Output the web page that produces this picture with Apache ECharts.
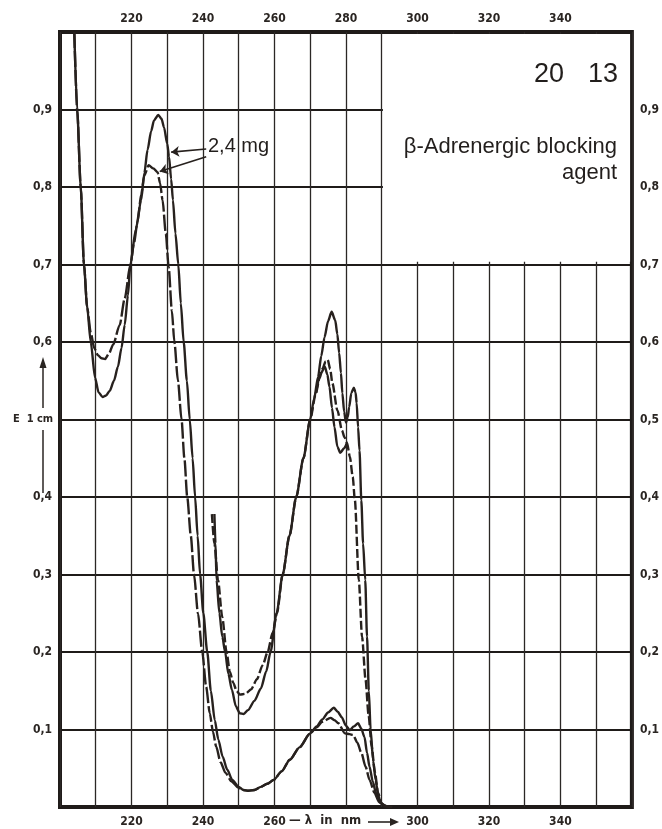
<!DOCTYPE html>
<html>
<head>
<meta charset="utf-8">
<script src="https://cdn.jsdelivr.net/npm/echarts@6/dist/echarts.min.js"></script>
<style>
html,body{margin:0;padding:0;background:#fff;}
#chart{width:662px;height:829px;}
</style>
</head>
<body>
<div id="chart"></div>
<script>
// ---- data (wavelength nm, extinction E 1cm) ----
const topTickLabels = [220, 240, 260, 280, 300, 320, 340];
const bottomTickLabels = [220, 240, 260, 300, 320, 340];
const leftTickLabels = [0.1, 0.2, 0.3, 0.4, 0.6, 0.7, 0.8, 0.9];
const rightTickLabels = [0.1, 0.2, 0.3, 0.4, 0.5, 0.6, 0.7, 0.8, 0.9];

// 2,4 mg, solid curve
const solidLow = [[204.0,1.0],[204.8,0.9],[205.8,0.8],[206.7,0.7],[207.6,0.645],[208.6,0.6],[209.8,0.554],[210.8,0.535],[211.9,0.529],[212.9,0.531],[213.9,0.537],[215.1,0.55],[216.2,0.568],[217.2,0.592],[218.1,0.622],[219.0,0.66],[219.7,0.70],[221.2,0.745],[222.7,0.783],[223.6,0.818],[224.5,0.848],[225.5,0.872],[226.3,0.886],[227.5,0.893],[228.4,0.888],[229.1,0.877],[230.0,0.856],[230.5,0.839],[231.1,0.81],[231.6,0.783],[232.3,0.74],[233.1,0.7],[233.8,0.65],[234.6,0.6],[235.5,0.55],[236.3,0.5],[237.1,0.45],[237.8,0.4],[238.5,0.35],[239.2,0.3],[240.1,0.25],[241.2,0.2],[242.2,0.15],[243.3,0.112],[244.3,0.087],[245.5,0.065],[246.8,0.048],[248.2,0.035],[250.0,0.026],[251.3,0.022],[252.6,0.021],[254.4,0.022],[256.2,0.026],[258.0,0.03],[259.8,0.035],[262.0,0.046],[264.3,0.061],[267.0,0.077],[270.0,0.095],[271.8,0.104],[273.4,0.113],[275.0,0.122],[276.6,0.128],[277.7,0.123],[278.8,0.116],[280.0,0.105],[281.1,0.099],[282.2,0.104],[283.4,0.108],[284.3,0.101],[285.2,0.09],[285.9,0.07],[286.6,0.052],[287.5,0.033],[288.4,0.018],[289.5,0.007],[290.7,0.002],[292.0,0]];

// 2,4 mg, dashed curve
const dashedLow = [[204.0,1.0],[204.8,0.9],[205.8,0.8],[206.7,0.7],[207.6,0.645],[208.6,0.612],[209.6,0.592],[210.6,0.583],[211.6,0.579],[212.6,0.578],[213.7,0.585],[214.9,0.597],[216.7,0.622],[218.1,0.656],[219.7,0.70],[220.7,0.728],[221.7,0.755],[222.7,0.79],[223.6,0.815],[224.8,0.828],[226.1,0.824],[227.3,0.819],[228.0,0.805],[228.7,0.783],[229.6,0.74],[230.4,0.697],[231.3,0.64],[232.0,0.6],[233.0,0.55],[234.0,0.5],[234.8,0.45],[235.6,0.4],[236.6,0.35],[237.5,0.3],[238.6,0.25],[239.8,0.2],[240.9,0.155],[241.9,0.121],[242.8,0.097],[243.7,0.078],[244.9,0.058],[246.3,0.044],[248.0,0.033],[249.9,0.025],[251.3,0.022],[252.6,0.021],[254.4,0.022],[256.2,0.026],[258.0,0.03],[259.8,0.035],[262.0,0.046],[264.3,0.061],[267.0,0.077],[270.0,0.095],[271.8,0.103],[273.4,0.11],[275.7,0.115],[276.8,0.112],[277.9,0.108],[279.7,0.095],[281.0,0.094],[282.0,0.093],[283.2,0.083],[284.3,0.07],[285.5,0.052],[286.6,0.035],[288.0,0.018],[289.3,0.006],[291.0,0]];

// higher concentration, solid curve
const solidHigh = [[243.2,0.378],[243.5,0.34],[243.8,0.293],[244.6,0.25],[245.4,0.22],[246.2,0.2],[247.1,0.172],[248.1,0.151],[249.2,0.13],[250.3,0.121],[251.4,0.12],[252.6,0.125],[254.4,0.137],[256.2,0.153],[257.7,0.175],[258.9,0.2],[260.6,0.25],[262.3,0.3],[264.2,0.35],[266.1,0.4],[268.1,0.45],[270.0,0.5],[271.1,0.527],[272.2,0.555],[273.1,0.582],[274.0,0.606],[275.0,0.627],[276.0,0.639],[277.0,0.628],[277.6,0.61],[278.1,0.586],[278.6,0.56],[279.0,0.534],[279.5,0.51],[280.0,0.496],[280.5,0.503],[280.9,0.516],[281.5,0.534],[282.2,0.541],[282.7,0.535],[283.0,0.521],[283.4,0.49],[283.8,0.46],[284.3,0.396],[284.8,0.34],[285.4,0.293],[285.9,0.22],[286.4,0.15],[286.9,0.1],[287.6,0.06],[288.3,0.035],[289.0,0.016],[289.7,0.005],[291.0,0.001],[293.0,0]];

// higher concentration, dashed curve
const dashedHigh = [[242.5,0.378],[243.2,0.34],[244.2,0.293],[245.4,0.245],[246.6,0.2],[247.5,0.175],[248.5,0.16],[249.4,0.15],[250.3,0.145],[251.9,0.146],[253.5,0.152],[255.1,0.165],[256.7,0.183],[258.1,0.2],[259.5,0.225],[260.7,0.25],[262.3,0.3],[264.2,0.35],[266.1,0.4],[268.1,0.45],[270.0,0.5],[271.6,0.534],[272.6,0.553],[273.5,0.566],[274.3,0.575],[274.9,0.577],[275.6,0.565],[276.2,0.547],[277.6,0.512],[278.9,0.486],[279.6,0.477],[280.3,0.47],[281.1,0.452],[281.9,0.426],[282.5,0.396],[283.6,0.293],[284.5,0.22],[285.5,0.164],[286.3,0.12],[287.2,0.078],[288.1,0.045],[289.0,0.018],[290.0,0.004],[291.5,0]];

// higher concentration, second solid curve (separates near the 275 nm band)
const solidHighB = [[271.6,0.534],[273.0,0.56],[274.1,0.568],[274.8,0.558],[275.4,0.542],[276.1,0.515],[276.8,0.49],[277.6,0.465],[278.4,0.457],[279.5,0.463],[280.3,0.47]];

// annotation arrows "2,4 mg" (from label to curve)
const arrowSolid = [[240.9,0.849],[231.1,0.845]];
const arrowDashed = [[240.9,0.839],[227.9,0.82]];
// blank text panel (no grid) region
const blankPanel = [[290.35,0.7035],[359.5,0.9975]];

// ---- chart ----
const ink = '#27211e';
const tickFont = {fontFamily:'DejaVu Sans Condensed, DejaVu Sans', fontSize:12, fontWeight:'bold', color:'#2a2522'};
const labelText = (list) => (v) => list.indexOf(Math.round(v)) >= 0 && Math.abs(v - Math.round(v)) < 1e-6 ? String(Math.round(v)) : '';
const yText = (list) => (v) => list.some(t => Math.abs(t - v) < 1e-6) ? v.toFixed(1).replace('.', ',') : '';

const chart = echarts.init(document.getElementById('chart'), null, {renderer:'canvas'});
const lineSeries = (name, data, dash, extra) => Object.assign({
  name, type:'line', data, showSymbol:false, symbol:'none', smooth:0.25, smoothMonotone:'x',
  lineStyle:{color:ink, width:2.4, type:dash}, silent:true, z:3
}, extra || {});

chart.setOption({
  animation:false,
  backgroundColor:'#ffffff',
  grid:{left:60, right:28, top:32, bottom:22, show:true, borderColor:'#1f1b19', borderWidth:4, backgroundColor:'#ffffff'},
  xAxis:[
    {type:'value', position:'bottom', min:200, max:360, interval:10,
     axisLine:{show:false}, axisTick:{show:false},
     splitLine:{show:true, lineStyle:{color:'#2b2725', width:1.3}},
     axisLabel:Object.assign({margin:9, formatter:labelText(bottomTickLabels)}, tickFont)},
    {type:'value', position:'top', min:200, max:360, interval:10,
     axisLine:{show:false}, axisTick:{show:false}, splitLine:{show:false},
     axisLabel:Object.assign({margin:7, formatter:labelText(topTickLabels)}, tickFont)}
  ],
  yAxis:[
    {type:'value', position:'left', min:0, max:1, interval:0.1,
     axisLine:{show:false}, axisTick:{show:false},
     splitLine:{show:true, lineStyle:{color:'#1f1b19', width:2}},
     axisLabel:Object.assign({margin:8, formatter:yText(leftTickLabels)}, tickFont)},
    {type:'value', position:'right', min:0, max:1, interval:0.1,
     axisLine:{show:false}, axisTick:{show:false}, splitLine:{show:false},
     axisLabel:Object.assign({margin:8, formatter:yText(rightTickLabels)}, tickFont)}
  ],
  series:[
    {type:'line', data:[], silent:true, z:1,
     markArea:{silent:true, itemStyle:{color:'#ffffff', opacity:1}, label:{show:false},
       data:[[{coord:blankPanel[0]},{coord:blankPanel[1]}]]}},
    lineSeries('solidLow', solidLow, 'solid', {
      markLine:{silent:true, symbol:['none','arrow'], symbolSize:8, label:{show:false},
        lineStyle:{color:ink, width:1.6, type:'solid'},
        data:[[{coord:arrowSolid[0]},{coord:arrowSolid[1]}],[{coord:arrowDashed[0]},{coord:arrowDashed[1]}]]}
    }),
    lineSeries('dashedLow', dashedLow, [16,3]),
    lineSeries('solidHigh', solidHigh, 'solid'),
    lineSeries('dashedHigh', dashedHigh, [9,3]),
    lineSeries('solidHighB', solidHighB, 'solid')
  ],
  graphic:[
    {type:'text', x:534, y:61, z:10, style:{text:'20', font:'27px "Liberation Sans", Arial, sans-serif', fill:'#221e1c'}},
    {type:'text', x:588, y:61, z:10, style:{text:'13', font:'27px "Liberation Sans", Arial, sans-serif', fill:'#221e1c'}},
    {type:'text', x:617, y:136, z:10, style:{text:'β-Adrenergic blocking', align:'right', textAlign:'right', font:'22px "Liberation Sans", Arial, sans-serif', fill:'#221e1c'}},
    {type:'text', x:617, y:162, z:10, style:{text:'agent', align:'right', textAlign:'right', font:'22px "Liberation Sans", Arial, sans-serif', fill:'#221e1c'}},
    {type:'text', x:208, y:136, z:10, style:{text:'2,4 mg', font:'20px "Liberation Sans", Arial, sans-serif', fill:'#221e1c'}},
    // y axis name with arrow
    {type:'text', x:13, y:414, z:10, style:{text:'E  1 cm', font:'bold 11px "DejaVu Sans Condensed", "DejaVu Sans", sans-serif', fill:'#2a2522'}},
    {type:'line', z:10, shape:{x1:43, y1:493, x2:43, y2:430}, style:{stroke:'#2a2522', lineWidth:1.5}},
    {type:'line', z:10, shape:{x1:43, y1:408, x2:43, y2:366}, style:{stroke:'#2a2522', lineWidth:1.5}},
    {type:'polygon', z:10, shape:{points:[[43,357],[39.5,368],[46.5,368]]}, style:{fill:'#2a2522'}},
    // x axis name with arrow
    {type:'text', x:289, y:814, z:10, style:{text:'— λ  in  nm', font:'bold 13px "DejaVu Sans Condensed", "DejaVu Sans", sans-serif', fill:'#2a2522'}},
    {type:'line', z:10, shape:{x1:368, y1:822, x2:392, y2:822}, style:{stroke:'#2a2522', lineWidth:1.6}},
    {type:'polygon', z:10, shape:{points:[[399,822],[390,818],[390,826]]}, style:{fill:'#2a2522'}}
  ]
});
</script>
</body>
</html>
